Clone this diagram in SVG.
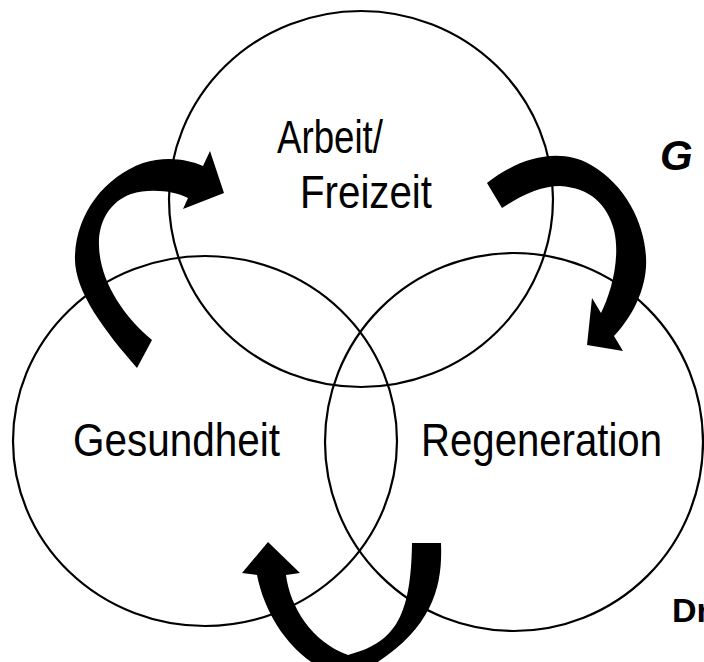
<svg xmlns="http://www.w3.org/2000/svg" width="704" height="662" viewBox="0 0 704 662">
<style>
.c{fill:none;stroke:#000;stroke-width:2.2}
.t{font-family:"Liberation Sans",Arial,sans-serif;font-size:46px;fill:#000}
.a{fill:#000;stroke:none}
.b{font-family:"Liberation Sans",Arial,sans-serif;font-weight:bold;fill:#000}
</style>
<rect width="704" height="662" fill="#fff"/>
<g id="arbeit">
<ellipse class="c" cx="361" cy="199" rx="192" ry="188"/>
<text class="t" x="277" y="153" textLength="106" lengthAdjust="spacingAndGlyphs">Arbeit/</text>
<text class="t" x="300" y="208" textLength="132" lengthAdjust="spacingAndGlyphs">Freizeit</text>
</g>
<g id="gesundheit">
<ellipse class="c" cx="205" cy="441" rx="192" ry="185"/>
<text class="t" x="73" y="456" textLength="207" lengthAdjust="spacingAndGlyphs">Gesundheit</text>
</g>
<g id="regeneration">
<ellipse class="c" cx="514" cy="442" rx="189" ry="189"/>
<text class="t" x="421" y="456" textLength="241" lengthAdjust="spacingAndGlyphs">Regeneration</text>
</g>
<g id="connectors">
<path class="a" d="M137,368 C104,330 73,290 75,255 C77,212 105,177 143,163 C165,156 187,159 203,166 L210,151 L224,193 L183,209 L188,198 C175,191 150,188 131,194 C109,202 98,223 99,246 C100,280 122,315 152,340 Z"/>
<path class="a" d="M487,183 C520,157 560,147 591,165 C628,186 648,230 646,267 C644,296 629,320 614,336 L623,351 L587,345 L592,298 L601,313 C610,295 621,260 614,230 C607,204 590,188 560,186 C540,186 520,196 502,208 Z"/>
<path class="a" d="M441,543 C443,590 431,637 350,678 C308,672 268,630 257,575 L242,573 L268,542 L300,573 L286,575 C290,607 312,642 348,655 C393,643 411,620 412,543 Z"/>
</g>
<text class="b" x="660" y="170" font-size="42" font-style="italic">G</text>
<text class="b" x="672" y="622" font-size="34">Dr</text>
</svg>
